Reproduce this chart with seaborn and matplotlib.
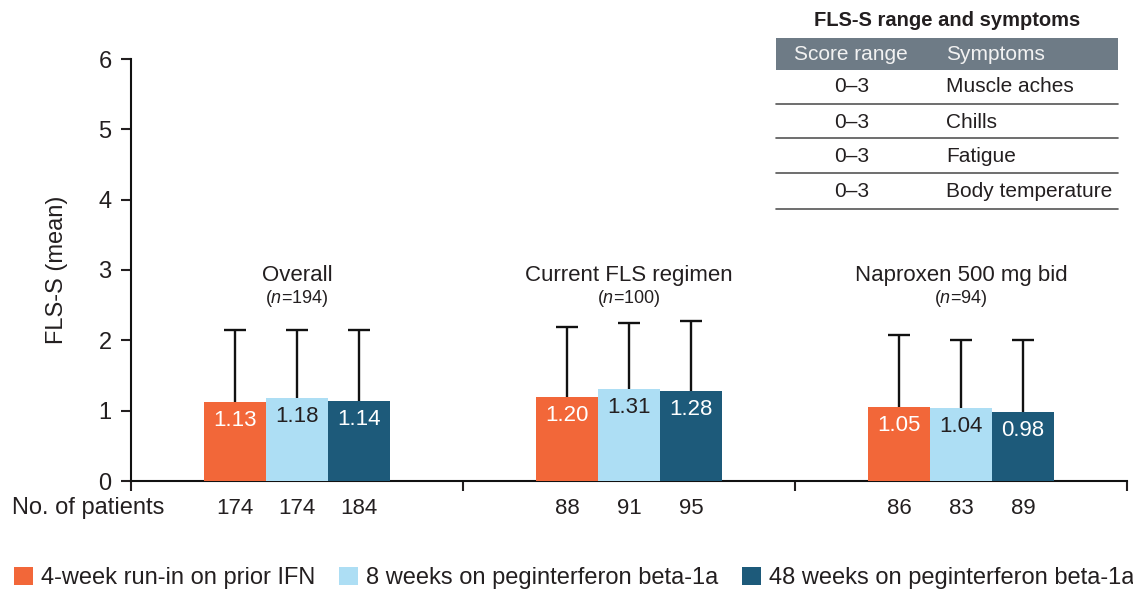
import matplotlib
matplotlib.use("Agg")
import matplotlib.pyplot as plt
from matplotlib.patches import Patch, Rectangle
from matplotlib.lines import Line2D
import seaborn as sns
import pandas as pd

# ---- data ----
groups = ["Overall", "Current FLS regimen", "Naproxen 500 mg bid"]
group_n = ["194", "100", "94"]
phases = ["4-week run-in on prior IFN",
          "8 weeks on peginterferon beta-1a",
          "48 weeks on peginterferon beta-1a"]
# mean FLS-S per phase, one list per group
means_overall = [1.13, 1.18, 1.14]
means_current = [1.20, 1.31, 1.28]
means_naproxen = [1.05, 1.04, 0.98]
# upper standard deviation
sd_overall = [1.02, 0.97, 1.01]
sd_current = [0.99, 0.93, 0.99]
sd_naproxen = [1.02, 0.96, 1.02]
# number of patients
pts_overall = [174, 174, 184]
pts_current = [88, 91, 95]
pts_naproxen = [86, 83, 89]

table_ranges = ["0–3", "0–3", "0–3", "0–3"]
table_symptoms = ["Muscle aches", "Chills", "Fatigue", "Body temperature"]

colors = ["#F26739", "#ADDEF4", "#1D5A7A"]
label_colors = ["white", "#231F20", "white"]
TXT = "#231F20"

means = [means_overall, means_current, means_naproxen]
sds = [sd_overall, sd_current, sd_naproxen]
pts = [pts_overall, pts_current, pts_naproxen]

rows = []
for g, m_list, s_list, p_list in zip(groups, means, sds, pts):
    for ph, m, s, p in zip(phases, m_list, s_list, p_list):
        rows.append({"group": g, "phase": ph, "mean": m, "sd": s, "n": p})
df = pd.DataFrame(rows)

# ---- style ----
sns.set_style("ticks")
plt.rcParams["font.family"] = ["Liberation Sans", "DejaVu Sans"]
plt.rcParams["mathtext.fontset"] = "custom"
plt.rcParams["mathtext.rm"] = "Liberation Sans"
plt.rcParams["mathtext.it"] = "Liberation Sans:italic"
plt.rcParams["text.color"] = TXT
plt.rcParams["axes.labelcolor"] = TXT
plt.rcParams["xtick.color"] = TXT
plt.rcParams["ytick.color"] = TXT
plt.rcParams["axes.edgecolor"] = "#111111"

W, H = 1133, 589
fig = plt.figure(figsize=(W / 100, H / 100), dpi=100)
ax = fig.add_axes([131 / W, 1 - 481 / H, (1127 - 131) / W, (481 - 59) / H])


def fx(px):
    return px / W


def fy(py):
    return 1 - py / H


sns.barplot(data=df, x="group", y="mean", hue="phase", order=groups,
            hue_order=phases, palette=colors, saturation=1, width=0.56,
            gap=0, errorbar=None, legend=False, ax=ax, zorder=3,
            linewidth=0, edgecolor="none")
bar_containers = list(ax.containers)

# error bars (upper only) and value labels on each bar
for i, cont in enumerate(bar_containers):
    sub = df[df["phase"] == phases[i]].set_index("group").loc[groups]
    for bar, (_, r) in zip(cont.patches, sub.iterrows()):
        cx = bar.get_x() + bar.get_width() / 2
        eb = ax.errorbar(cx, r["mean"], yerr=[[0], [r["sd"]]], fmt="none",
                         ecolor="#111111", elinewidth=1.7, capsize=8,
                         capthick=1.7, zorder=2)
        eb.lines[1][0].set_visible(False)  # hide the lower cap
        ax.annotate(f"{r['mean']:.2f}", (cx, r["mean"]), xytext=(0, -6),
                    textcoords="offset points", ha="center", va="top",
                    fontsize=16, color=label_colors[i], zorder=4)
        ax.text(cx, -0.064, f"{int(r['n'])}", transform=ax.get_xaxis_transform(),
                ha="center", va="center", fontsize=16, color=TXT)

# group titles
for gi, (g, n) in enumerate(zip(groups, group_n)):
    ax.text(gi, 2.92, g, ha="center", va="center", fontsize=16, color=TXT)
    ax.text(gi, 2.59, "(" + r"$\mathit{n}$" + f"={n})", ha="center",
            va="center", fontsize=13, color=TXT)

ax.set_xlim(-0.5, 2.5)
ax.set_ylim(0, 6)
ax.set_yticks(range(0, 7))
ax.tick_params(axis="y", labelsize=17, length=7, width=1.5, pad=7)
ax.set_xticks([-0.5, 0.5, 1.5, 2.5])
ax.set_xticklabels([])
ax.tick_params(axis="x", length=7, width=1.5, direction="out")
ax.set_xlabel("")
ax.set_ylabel("FLS-S (mean)", fontsize=17)
ax.yaxis.set_label_coords(-0.063, 0.5)
for side in ["top", "right"]:
    ax.spines[side].set_visible(False)
ax.spines["left"].set_linewidth(1.5)
ax.spines["bottom"].set_linewidth(1.5)
ax.spines["left"].set_bounds(0, 6)

fig.text(fx(12), fy(508), "No. of patients", ha="left", va="center",
         fontsize=17, color=TXT)

# symptom table
fig.text(fx(947), fy(20), "FLS-S range and symptoms", ha="center",
         va="center", fontsize=14.5, fontweight="bold", color=TXT)
fig.patches.append(Rectangle((fx(776), fy(70)), fx(1118) - fx(776),
                             fy(38) - fy(70), transform=fig.transFigure,
                             facecolor="#6E7B86", edgecolor="none"))
fig.text(fx(851), fy(54), "Score range", ha="center", va="center",
         fontsize=15, color="#F2F2F2")
fig.text(fx(946), fy(54), "Symptoms", ha="left", va="center",
         fontsize=15, color="#F2F2F2")
row_lines = [104, 138, 173, 209]
row_centers = [87, 122, 157, 191]
for rng, sym, yl, yc in zip(table_ranges, table_symptoms, row_lines, row_centers):
    fig.text(fx(852), fy(yc), rng, ha="center", va="center", fontsize=15, color=TXT)
    fig.text(fx(946), fy(yc), sym, ha="left", va="center", fontsize=15, color=TXT)
    fig.lines.append(Line2D([fx(776), fx(1118)], [fy(yl), fy(yl)],
                            transform=fig.transFigure, color="#555555", lw=1.2))

# legend
handles = [Patch(facecolor=c, edgecolor="none", label=p) for c, p in zip(colors, phases)]
fig.legend(handles=handles, loc="center", bbox_to_anchor=(0.507, fy(578)),
           ncol=3, frameon=False, fontsize=17, handlelength=0.8,
           handleheight=0.8, handletextpad=0.35, columnspacing=1.0,
           borderaxespad=0, borderpad=0)

fig.savefig("out.png", dpi=100)
